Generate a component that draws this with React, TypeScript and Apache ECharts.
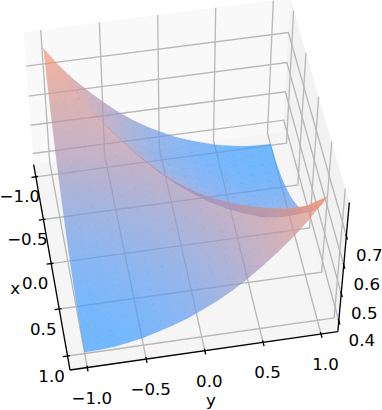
import React, { useEffect, useRef } from "react";
import * as echarts from "echarts";

// ---- values ----
const xGrid = [-1, -0.875, -0.75, -0.625, -0.5, -0.375, -0.25, -0.125, 0, 0.125, 0.25, 0.375, 0.5, 0.625, 0.75, 0.875, 1];
const yGrid = xGrid;
const zRows = [
  [0.79, 0.727, 0.674, 0.628, 0.586, 0.547, 0.513, 0.484, 0.459, 0.436, 0.418, 0.402, 0.388, 0.378, 0.37, 0.366, 0.365],
  [0.727, 0.729, 0.67, 0.618, 0.576, 0.537, 0.503, 0.474, 0.453, 0.432, 0.413, 0.402, 0.388, 0.377, 0.371, 0.367, 0.366],
  [0.674, 0.677, 0.686, 0.628, 0.572, 0.532, 0.498, 0.468, 0.443, 0.431, 0.412, 0.396, 0.392, 0.379, 0.372, 0.371, 0.37],
  [0.628, 0.633, 0.643, 0.656, 0.601, 0.547, 0.512, 0.482, 0.456, 0.434, 0.425, 0.409, 0.395, 0.392, 0.379, 0.378, 0.378],
  [0.586, 0.591, 0.602, 0.616, 0.63, 0.578, 0.528, 0.497, 0.47, 0.447, 0.429, 0.422, 0.409, 0.395, 0.392, 0.388, 0.388],
  [0.547, 0.552, 0.562, 0.577, 0.593, 0.607, 0.558, 0.512, 0.486, 0.462, 0.443, 0.426, 0.422, 0.409, 0.404, 0.402, 0.402],
  [0.513, 0.518, 0.528, 0.542, 0.558, 0.573, 0.59, 0.545, 0.503, 0.48, 0.46, 0.443, 0.429, 0.425, 0.42, 0.418, 0.418],
  [0.484, 0.489, 0.498, 0.512, 0.527, 0.542, 0.56, 0.579, 0.538, 0.5, 0.48, 0.462, 0.447, 0.434, 0.431, 0.432, 0.436],
  [0.459, 0.463, 0.473, 0.486, 0.5, 0.516, 0.533, 0.553, 0.576, 0.538, 0.503, 0.486, 0.47, 0.456, 0.45, 0.453, 0.459],
  [0.436, 0.442, 0.451, 0.464, 0.477, 0.492, 0.51, 0.53, 0.553, 0.579, 0.545, 0.512, 0.497, 0.482, 0.472, 0.474, 0.484],
  [0.418, 0.423, 0.432, 0.445, 0.459, 0.473, 0.49, 0.51, 0.533, 0.56, 0.59, 0.558, 0.528, 0.512, 0.505, 0.508, 0.513],
  [0.402, 0.407, 0.416, 0.429, 0.442, 0.456, 0.473, 0.492, 0.516, 0.542, 0.573, 0.607, 0.578, 0.547, 0.54, 0.542, 0.547],
  [0.388, 0.393, 0.402, 0.415, 0.429, 0.442, 0.459, 0.477, 0.5, 0.527, 0.558, 0.593, 0.63, 0.601, 0.58, 0.582, 0.586],
  [0.378, 0.38, 0.389, 0.402, 0.415, 0.429, 0.445, 0.464, 0.486, 0.512, 0.542, 0.577, 0.616, 0.656, 0.628, 0.624, 0.628],
  [0.37, 0.371, 0.377, 0.389, 0.402, 0.416, 0.432, 0.451, 0.473, 0.498, 0.528, 0.562, 0.602, 0.643, 0.686, 0.67, 0.674],
  [0.366, 0.367, 0.371, 0.38, 0.393, 0.407, 0.423, 0.442, 0.463, 0.489, 0.518, 0.552, 0.591, 0.633, 0.677, 0.729, 0.727],
  [0.365, 0.366, 0.37, 0.378, 0.388, 0.402, 0.418, 0.436, 0.459, 0.484, 0.513, 0.547, 0.586, 0.628, 0.674, 0.727, 0.79],
];
const xTicks = [-1, -0.5, 0, 0.5, 1];
const yTicks = [-1, -0.5, 0, 0.5, 1];
const zTicks = [0.4, 0.5, 0.6, 0.7];
const xTickLabels = ["\u22121.0", "\u22120.5", "0.0", "0.5", "1.0"];
const yTickLabels = ["\u22121.0", "\u22120.5", "0.0", "0.5", "1.0"];
const zTickLabels = ["0.4", "0.5", "0.6", "0.7"];
const xLim = [-1.146, 1.146];
const yLim = [-1.146, 1.146];
const zLim = [0.36, 0.81];

// ---- 3D view ----
const ELEV = (50 * Math.PI) / 180;
const AZIM = (-10 * Math.PI) / 180;
const DIST = 10;
const SCALE = 228;
const CX = 181.2;
const CY = 182.3;
const HX = 0.595;
const HZ = 0.4465;
const E = [Math.cos(ELEV) * Math.cos(AZIM), Math.cos(ELEV) * Math.sin(AZIM), Math.sin(ELEV)];
const R = [-Math.sin(AZIM), Math.cos(AZIM), 0];
const U = [-Math.sin(ELEV) * Math.cos(AZIM), -Math.sin(ELEV) * Math.sin(AZIM), Math.cos(ELEV)];
const dot = (a: number[], b: number[]) => a[0] * b[0] + a[1] * b[1] + a[2] * b[2];
const world = (x: number, y: number, z: number) => [
  ((x - (xLim[0] + xLim[1]) / 2) / (xLim[1] - xLim[0])) * 2 * HX,
  ((y - (yLim[0] + yLim[1]) / 2) / (yLim[1] - yLim[0])) * 2 * HX,
  ((z - (zLim[0] + zLim[1]) / 2) / (zLim[1] - zLim[0])) * 2 * HZ,
];
const depth = (x: number, y: number, z: number) => dot(world(x, y, z), E);
const project = (x: number, y: number, z: number) => {
  const p = world(x, y, z);
  const f = DIST / (DIST - dot(p, E));
  return [CX + SCALE * f * dot(p, R), CY - SCALE * f * dot(p, U)];
};

// ---- colours ----
const colorStopsZ = [0.37, 0.42, 0.58, 0.79];
const colorStopsRGB = [
  [60, 158, 255],
  [88, 156, 245],
  [172, 150, 182],
  [245, 148, 112],
];
const colorOf = (z: number) => {
  let k = 0;
  while (k < colorStopsZ.length - 2 && z > colorStopsZ[k + 1]) k++;
  const t = Math.max(0, Math.min(1, (z - colorStopsZ[k]) / (colorStopsZ[k + 1] - colorStopsZ[k])));
  const c = colorStopsRGB[k].map((l, n) => Math.round(l + (colorStopsRGB[k + 1][n] - l) * t));
  return `rgb(${c[0]},${c[1]},${c[2]})`;
};

type V = [number, number, number];
const triangles: V[][] = [];
for (let i = 0; i < xGrid.length - 1; i++) {
  for (let j = 0; j < yGrid.length - 1; j++) {
    const v = (a: number, b: number): V => [xGrid[a], yGrid[b], zRows[a][b]];
    triangles.push([v(i, j), v(i + 1, j), v(i + 1, j + 1)]);
    triangles.push([v(i, j), v(i, j + 1), v(i + 1, j + 1)]);
  }
}
const meanDepth = (t: V[]) => t.reduce((s, v) => s + depth(v[0], v[1], v[2]), 0) / 3;
triangles.sort((a, b) => meanDepth(a) - meanDepth(b));

const triFill = (t: V[]) => {
  const s = [...t].sort((a, b) => a[2] - b[2]);
  const [a, b, c] = s.map((v) => project(v[0], v[1], v[2]));
  const [z0, z1, z2] = s.map((v) => v[2]);
  if (z2 - z0 < 1e-6) return colorOf(z0);
  const k = (z1 - z0) / (z2 - z0);
  const q = [a[0] + (c[0] - a[0]) * k, a[1] + (c[1] - a[1]) * k];
  const ex = q[0] - b[0];
  const ey = q[1] - b[1];
  const len = Math.hypot(ex, ey);
  let nx: number;
  let ny: number;
  if (len < 1e-3) {
    const l2 = Math.hypot(c[0] - a[0], c[1] - a[1]) || 1;
    nx = (c[0] - a[0]) / l2;
    ny = (c[1] - a[1]) / l2;
  } else {
    nx = -ey / len;
    ny = ex / len;
  }
  const proj = (c[0] - a[0]) * nx + (c[1] - a[1]) * ny;
  return {
    type: "linear",
    global: true,
    x: a[0],
    y: a[1],
    x2: a[0] + nx * proj,
    y2: a[1] + ny * proj,
    colorStops: [
      { offset: 0, color: colorOf(z0) },
      { offset: 1, color: colorOf(z2) },
    ],
  };
};

// ---- box ----
const [x0, x1] = xLim;
const [y0, y1] = yLim;
const [z0, z1] = zLim;
const panes: { pts: V[]; fill: string }[] = [
  { pts: [[x0, y0, z0], [x1, y0, z0], [x1, y1, z0], [x0, y1, z0]], fill: "#f5f5f5" },
  { pts: [[x0, y0, z0], [x0, y1, z0], [x0, y1, z1], [x0, y0, z1]], fill: "#f9f9f9" },
  { pts: [[x0, y1, z0], [x1, y1, z0], [x1, y1, z1], [x0, y1, z1]], fill: "#f2f2f2" },
];
const gridLines: V[][] = [
  ...xTicks.map((x): V[] => [[x, y0, z0], [x, y1, z0], [x, y1, z1]]),
  ...yTicks.map((y): V[] => [[x1, y, z0], [x0, y, z0], [x0, y, z1]]),
  ...zTicks.map((z): V[] => [[x0, y0, z], [x0, y1, z], [x1, y1, z]]),
];
const axisLines: V[][] = [
  [[x1, y0, z0], [x0, y0, z0]],
  [[x1, y0, z0], [x1, y1, z0]],
  [[x1, y1, z0], [x1, y1, z1]],
];
const TICK_OUT = 0.04;
const TICK_IN = 0.02;
const tickMarks: V[][] = [
  ...xTicks.map((x): V[] => [[x, y0 - TICK_OUT, z0], [x, y0 + TICK_IN, z0]]),
  ...yTicks.map((y): V[] => [[x1 + TICK_OUT, y, z0], [x1 - TICK_IN, y, z0]]),
  ...zTicks.map((z): V[] => [[x1 + TICK_OUT, y1, z], [x1 - TICK_IN, y1, z]]),
];
const offsetLabel = (p: number[], dx: number, dy: number) => [p[0] + dx, p[1] + dy];
const labels: { text: string; at: number[] }[] = [
  ...xTicks.map((x, i) => ({ text: xTickLabels[i], at: offsetLabel(project(x, y0, z0), -16, 20) })),
  ...yTicks.map((y, i) => ({ text: yTickLabels[i], at: offsetLabel(project(x1, y, z0), 4.5, 30.5) })),
  ...zTicks.map((z, i) => ({ text: zTickLabels[i], at: offsetLabel(project(x1, y1, z), 23, 20) })),
  { text: "x", at: offsetLabel(project(0, y0, z0), -36, 25) },
  { text: "y", at: offsetLabel(project(x1, 0, z0), 6, 50) },
];

const polySeries = (
  name: string,
  z: number,
  items: any[],
  draw: (item: any) => any
) => ({
  type: "custom",
  name,
  z,
  silent: true,
  coordinateSystem: "none",
  clip: false,
  data: items.map((_, i) => [i]),
  renderItem: (params: any) => draw(items[params.dataIndex]),
});

export default function App() {
  const ref = useRef<HTMLDivElement>(null);
  useEffect(() => {
    document.body.style.margin = "0";
    document.body.style.overflow = "hidden";
    const chart = echarts.init(ref.current!, undefined, { renderer: "svg" });
    const pts = (line: V[]) => line.map((v) => project(v[0], v[1], v[2]));
    chart.setOption({
      animation: false,
      backgroundColor: "#ffffff",
      series: [
        polySeries("panes", 1, panes, (p) => ({
          type: "polygon",
          shape: { points: pts(p.pts) },
          style: { fill: p.fill, stroke: "none" },
        })),
        polySeries("grid", 2, gridLines, (l) => ({
          type: "polyline",
          shape: { points: pts(l) },
          style: { fill: "none", stroke: "#b8b8b8", lineWidth: 1.33 },
        })),
        polySeries("axes", 3, axisLines, (l) => ({
          type: "polyline",
          shape: { points: pts(l) },
          style: { fill: "none", stroke: "#000000", lineWidth: 1.33 },
        })),
        polySeries("ticks", 3, tickMarks, (l) => ({
          type: "polyline",
          shape: { points: pts(l) },
          style: { fill: "none", stroke: "#000000", lineWidth: 1.33 },
        })),
        polySeries("surface", 4, triangles, (t) => {
          const fill = triFill(t);
          return {
            type: "polygon",
            shape: { points: pts(t) },
            style: { fill, stroke: fill, lineWidth: 0.2, opacity: 0.7 },
          };
        }),
        polySeries("labels", 5, labels, (l) => ({
          type: "text",
          style: {
            text: l.text,
            x: l.at[0],
            y: l.at[1],
            align: "center",
            verticalAlign: "middle",
            fontFamily: "DejaVu Sans",
            fontSize: 16.67,
            fill: "#000000",
          },
        })),
      ],
    });
    return () => chart.dispose();
  }, []);
  return <div ref={ref} style={{ position: "absolute", left: 0, top: 0, width: 382, height: 410 }} />;
}
